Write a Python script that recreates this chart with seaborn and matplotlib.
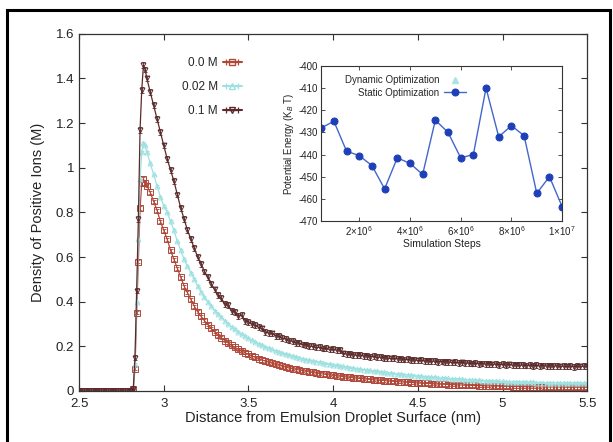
import numpy as np
import matplotlib
matplotlib.use("Agg")
import matplotlib.pyplot as plt
from matplotlib.patches import Rectangle
from matplotlib.lines import Line2D
import seaborn as sns

sns.set_style("ticks")
plt.rcParams['font.family'] = ['Liberation Sans', 'DejaVu Sans']
plt.rcParams['mathtext.fontset'] = 'custom'
plt.rcParams['mathtext.rm'] = 'Liberation Sans'
plt.rcParams['mathtext.it'] = 'Liberation Sans:italic'
plt.rcParams['axes.unicode_minus'] = False

# ---- main plot data: distance (nm) vs density of positive ions (M) ----
x_flat = np.round(np.arange(2.50, 2.801, 0.02), 2)
x_peak = np.round(np.arange(2.81, 2.901, 0.01), 2)
x_tail = np.round(np.arange(2.92, 5.501, 0.02), 2)
distance = np.concatenate([x_flat, x_peak, x_tail])

flat_zero = [0.0, 0.0, 0.0, 0.0, 0.0, 0.0, 0.0, 0.0,
             0.0, 0.0, 0.0, 0.0, 0.0, 0.0, 0.0, 0.0]

dens_00_peak = [0.0, 0.01, 0.10, 0.35, 0.58, 0.82, 0.93, 0.95, 0.93, 0.92]
dens_00_tail = [
    0.89, 0.85, 0.81, 0.76, 0.72, 0.68, 0.63, 0.59, 0.55, 0.51,
    0.47, 0.44, 0.41, 0.38, 0.355, 0.335, 0.315, 0.297, 0.28, 0.265,
    0.25, 0.238, 0.226, 0.215, 0.205, 0.196, 0.187, 0.179, 0.171, 0.164,
    0.157, 0.151, 0.145, 0.139, 0.134, 0.129, 0.124, 0.119, 0.115, 0.111,
    0.107, 0.103, 0.100, 0.097, 0.094, 0.091, 0.088, 0.085, 0.083, 0.080,
    0.078, 0.076, 0.074, 0.072, 0.070, 0.068, 0.066, 0.064, 0.063, 0.061,
    0.059, 0.058, 0.056, 0.055, 0.053, 0.052, 0.050, 0.049, 0.048, 0.047,
    0.045, 0.044, 0.043, 0.042, 0.041, 0.040, 0.039, 0.038, 0.037, 0.036,
    0.035, 0.034, 0.034, 0.033, 0.032, 0.031, 0.031, 0.030, 0.029, 0.029,
    0.028, 0.027, 0.027, 0.026, 0.026, 0.025, 0.025, 0.024, 0.024, 0.023,
    0.023, 0.022, 0.022, 0.022, 0.021, 0.021, 0.021, 0.020, 0.020, 0.020,
    0.020, 0.019, 0.019, 0.019, 0.019, 0.019, 0.018, 0.018, 0.018, 0.018,
    0.018, 0.018, 0.018, 0.017, 0.017, 0.017, 0.017, 0.017, 0.017, 0.017,
]

dens_002_peak = [0.0, 0.01, 0.12, 0.40, 0.68, 0.95, 1.07, 1.11, 1.10, 1.07]
dens_002_tail = [
    1.02, 0.97, 0.92, 0.87, 0.83, 0.80, 0.76, 0.72, 0.67, 0.63,
    0.59, 0.56, 0.53, 0.50, 0.47, 0.445, 0.42, 0.40, 0.38, 0.36,
    0.345, 0.33, 0.315, 0.30, 0.288, 0.276, 0.265, 0.255, 0.245, 0.236,
    0.228, 0.220, 0.212, 0.205, 0.198, 0.192, 0.186, 0.180, 0.175, 0.170,
    0.165, 0.160, 0.156, 0.152, 0.148, 0.144, 0.141, 0.138, 0.135, 0.132,
    0.129, 0.126, 0.123, 0.120, 0.118, 0.115, 0.112, 0.110, 0.107, 0.105,
    0.102, 0.100, 0.098, 0.096, 0.094, 0.092, 0.090, 0.088, 0.086, 0.084,
    0.082, 0.080, 0.078, 0.077, 0.075, 0.073, 0.072, 0.070, 0.069, 0.067,
    0.066, 0.064, 0.063, 0.062, 0.061, 0.059, 0.058, 0.057, 0.056, 0.055,
    0.054, 0.053, 0.052, 0.051, 0.050, 0.049, 0.048, 0.048, 0.047, 0.046,
    0.045, 0.045, 0.044, 0.043, 0.043, 0.042, 0.042, 0.041, 0.041, 0.040,
    0.040, 0.039, 0.039, 0.039, 0.038, 0.038, 0.038, 0.037, 0.037, 0.037,
    0.037, 0.036, 0.036, 0.036, 0.036, 0.036, 0.035, 0.035, 0.035, 0.035,
]

dens_01_peak = [0.0, 0.01, 0.15, 0.45, 0.77, 1.17, 1.35, 1.46, 1.44, 1.40]
dens_01_tail = [
    1.34, 1.28, 1.22, 1.16, 1.10, 1.04, 0.99, 0.94, 0.88, 0.82,
    0.77, 0.72, 0.68, 0.64, 0.60, 0.57, 0.535, 0.51, 0.48, 0.455,
    0.43, 0.415, 0.39, 0.385, 0.36, 0.355, 0.335, 0.34, 0.315, 0.31,
    0.30, 0.295, 0.285, 0.28, 0.265, 0.26, 0.258, 0.248, 0.245, 0.236,
    0.234, 0.226, 0.223, 0.216, 0.215, 0.208, 0.207, 0.201, 0.200, 0.195,
    0.196, 0.190, 0.191, 0.186, 0.187, 0.183, 0.185, 0.168, 0.166, 0.165,
    0.163, 0.160, 0.161, 0.157, 0.158, 0.154, 0.155, 0.151, 0.152, 0.149,
    0.148, 0.146, 0.147, 0.144, 0.145, 0.141, 0.142, 0.139, 0.140, 0.137,
    0.138, 0.135, 0.136, 0.133, 0.134, 0.131, 0.132, 0.130, 0.131, 0.128,
    0.129, 0.126, 0.128, 0.125, 0.126, 0.123, 0.125, 0.122, 0.123, 0.121,
    0.122, 0.119, 0.121, 0.118, 0.120, 0.117, 0.119, 0.116, 0.118, 0.115,
    0.117, 0.114, 0.116, 0.113, 0.115, 0.112, 0.114, 0.112, 0.113, 0.111,
    0.113, 0.110, 0.112, 0.110, 0.112, 0.109, 0.111, 0.110, 0.112, 0.110,
]

series_labels = ["0.0 M", "0.02 M", "0.1 M"]
series_values = [flat_zero + dens_00_peak + dens_00_tail,
                 flat_zero + dens_002_peak + dens_002_tail,
                 flat_zero + dens_01_peak + dens_01_tail]
series_err = [0.007, 0.004, 0.013]

# ---- inset data: simulation steps vs potential energy ----
sim_steps = [5e5, 1e6, 1.5e6, 2e6, 2.5e6, 3e6, 3.5e6, 4e6, 4.5e6, 5e6,
             5.5e6, 6e6, 6.5e6, 7e6, 7.5e6, 8e6, 8.5e6, 9e6, 9.5e6, 1e7]
static_energy = [-428, -425, -438.5, -440.5, -445, -455.5, -441.5, -444, -449, -424.5,
                 -430, -441.5, -440, -410, -432, -427, -431.5, -457.5, -450, -463.5]
inset_xticks = [2e6, 4e6, 6e6, 8e6, 1e7]
inset_xticklabels = [r'2$\times$10$^{6}$', r'4$\times$10$^{6}$', r'6$\times$10$^{6}$',
                     r'8$\times$10$^{6}$', r'1$\times$10$^{7}$']

colors = ["#b0483a", "#9fe1e1", "#5c2a2a"]
markers = ["s", "^", "v"]
msizes = [4.0, 3.5, 3.5]

fig = plt.figure(figsize=(6.13, 4.42), dpi=100)
ax = fig.add_axes([0.129, 0.1154, 0.829, 0.808])

handles = []
for label, vals, err, c, m, ms in zip(series_labels, series_values, series_err,
                                      colors, markers, msizes):
    sns.lineplot(x=distance, y=vals, ax=ax, color=c, marker=m, markersize=ms,
                 markerfacecolor='none', markeredgecolor=c, markeredgewidth=0.7,
                 linewidth=0.9, legend=False)
    ax.errorbar(distance, vals, yerr=err, fmt='none', ecolor=c,
                elinewidth=0.6, capsize=1.5, capthick=0.6)
    # legend key drawn gnuplot-style: |-marker-|
    key = ax.errorbar([np.nan], [np.nan], xerr=[0.1], fmt='-' + m, color=c,
                      mfc='none', mec=c, ms=4, ecolor=c, elinewidth=0.9,
                      capsize=2.5, capthick=0.9)
    handles.append(key)

ax.set_xlim(2.5, 5.5)
ax.set_ylim(0, 1.6)
ax.set_xticks([2.5, 3, 3.5, 4, 4.5, 5, 5.5])
ax.set_xticklabels(["2.5", "3", "3.5", "4", "4.5", "5", "5.5"])
ax.set_yticks([0, 0.2, 0.4, 0.6, 0.8, 1.0, 1.2, 1.4, 1.6])
ax.set_yticklabels(["0", "0.2", "0.4", "0.6", "0.8", "1", "1.2", "1.4", "1.6"])
ax.tick_params(direction='in', top=True, right=True, length=4, width=0.8,
               labelsize=9.5, colors='#333333', labelcolor='#222222')
ax.tick_params(axis='x', pad=5)
for s in ax.spines.values():
    s.set_color('#333333')
    s.set_linewidth(0.9)
ax.set_xlabel("Distance from Emulsion Droplet Surface (nm)", fontsize=10.5, labelpad=1,
              color='#222222')
ax.set_ylabel("Density of Positive Ions (M)", fontsize=10.5, labelpad=8, color='#222222')

ax.legend(handles, series_labels, loc='upper right', bbox_to_anchor=(0.32, 0.935),
          frameon=False, markerfirst=False, fontsize=8.5, handlelength=1.6,
          labelspacing=1.0, borderaxespad=0, borderpad=0, handletextpad=0.4)

# ---- inset ----
ins = fig.add_axes([0.524, 0.50, 0.393, 0.351])
sns.lineplot(x=sim_steps, y=static_energy, ax=ins, color="#4466cc", marker='o',
             markersize=5, markerfacecolor="#1d3fb8", markeredgecolor="#1d3fb8",
             linewidth=1.0, legend=False)
static_handle = ins.lines[-1]
dyn_handle = Line2D([], [], linestyle='none', marker='^', markersize=4,
                    color="#a8e4e4")
ins.set_xlim(5e5, 1e7)
ins.set_ylim(-470, -400)
ins.set_yticks([-470, -460, -450, -440, -430, -420, -410, -400])
ins.set_xticks(inset_xticks)
ins.set_xticklabels(inset_xticklabels)
ins.tick_params(direction='in', top=True, right=True, length=3, width=0.6,
                labelsize=7, colors='#333333', labelcolor='#222222', pad=2)
for s in ins.spines.values():
    s.set_color('#333333')
    s.set_linewidth(0.8)
ins.set_xlabel("Simulation Steps", fontsize=7.5, labelpad=1, color='#222222')
ins.set_ylabel(r"Potential Energy (K$_{B}$ T)", fontsize=7, labelpad=2, color='#222222')
ins.legend([dyn_handle, static_handle], ["Dynamic Optimization", "Static Optimization"],
           loc='upper right', bbox_to_anchor=(0.6, 0.94), frameon=False,
           markerfirst=False, fontsize=7, handlelength=2.2, labelspacing=0.25,
           borderaxespad=0, borderpad=0, handletextpad=0.5)

# outer frame of the figure
fig.patches.append(Rectangle((7 / 613, -0.02), 603 / 613, 1.0 - 10 / 442 + 0.02,
                             transform=fig.transFigure, fill=False,
                             edgecolor='black', linewidth=2.2))

fig.savefig("out.png", dpi=100)
